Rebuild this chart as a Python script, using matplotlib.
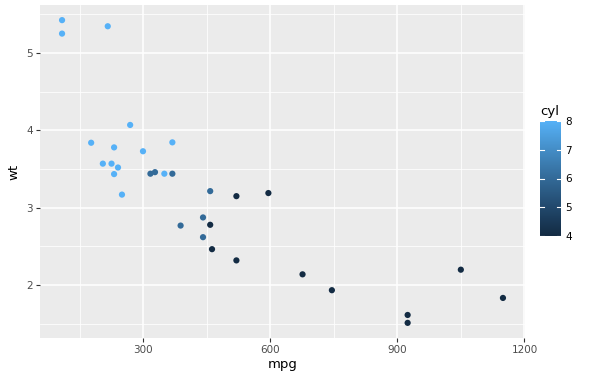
import matplotlib.pyplot as plt
import numpy as np
from matplotlib.colors import LinearSegmentedColormap

# mpg (squared values as plotted), wt, cyl
mpg = [441.0, 441.0, 519.84, 457.96, 349.69, 327.61, 204.49, 595.36,
       519.84, 368.64, 316.84, 268.96, 299.29, 231.04, 108.16, 108.16,
       216.09, 1049.76, 924.16, 1149.21, 462.25, 240.25, 231.04, 176.89,
       368.64, 745.29, 676.0, 924.16, 249.64, 388.09, 225.0, 457.96]
wt = [2.620, 2.875, 2.320, 3.215, 3.440, 3.460, 3.570, 3.190,
      3.150, 3.440, 3.440, 4.070, 3.730, 3.780, 5.250, 5.424,
      5.345, 2.200, 1.615, 1.835, 2.465, 3.520, 3.435, 3.840,
      3.845, 1.935, 2.140, 1.513, 3.170, 2.770, 3.570, 2.780]
cyl = [6, 6, 4, 6, 8, 6, 8, 4, 4, 6, 6, 8, 8, 8, 8, 8,
       8, 4, 4, 4, 4, 8, 8, 8, 8, 4, 4, 4, 8, 6, 8, 4]

x_ticks = [300, 600, 900, 1200]
y_ticks = [2, 3, 4, 5]
cbar_ticks = [4, 5, 6, 7, 8]

cmap = LinearSegmentedColormap.from_list(
    "gg", ["#132B43", "#22496D", "#336A98", "#448DC6", "#56B1F7"])

fig = plt.figure(figsize=(6, 3.75), dpi=100)
W, H = 600, 375
ax = fig.add_axes([40 / W, 1 - 338 / H, (525 - 40) / W, (338 - 5) / H])
ax.set_facecolor("#EBEBEB")

xmin, xmax = min(mpg), max(mpg)
ymin, ymax = min(wt), max(wt)
dx, dy = (xmax - xmin) * 0.05, (ymax - ymin) * 0.05
ax.set_xlim(xmin - dx, xmax + dx)
ax.set_ylim(ymin - dy, ymax + dy)

ax.set_xticks(x_ticks[:-1] + [1200])
ax.set_yticks(y_ticks)
ax.set_xticks([150, 450, 750, 1050], minor=True)
ax.set_yticks([1.5, 2.5, 3.5, 4.5, 5.5], minor=True)
ax.grid(which="major", color="white", lw=1.1)
ax.grid(which="minor", color="white", lw=0.55)
ax.set_axisbelow(True)
for s in ax.spines.values():
    s.set_visible(False)
ax.tick_params(which="major", length=3, width=0.8, color="#333333",
               labelsize=7.5, labelcolor="#4D4D4D", pad=2)
ax.tick_params(which="minor", length=0)

ax.scatter(mpg, wt, c=cyl, cmap=cmap, vmin=4, vmax=8, s=20,
           linewidths=0, zorder=3)
ax.set_xlabel("mpg", fontsize=9.5, labelpad=2)
ax.set_ylabel("wt", fontsize=9.5, labelpad=4)

# colourbar legend
cax = fig.add_axes([540 / W, 1 - 236 / H, 21 / W, (236 - 121) / H])
grad = np.linspace(4, 8, 200).reshape(-1, 1)
cax.imshow(grad, cmap=cmap, vmin=4, vmax=8, origin="lower",
           aspect="auto", extent=[0, 1, 4, 8])
cax.set_xlim(0, 1)
cax.set_ylim(4, 8)
for t in cbar_ticks:
    cax.plot([0, 0.2], [t, t], color="white", lw=0.8)
    cax.plot([0.8, 1], [t, t], color="white", lw=0.8)
cax.set_xticks([])
cax.set_yticks(cbar_ticks)
cax.yaxis.tick_right()
cax.tick_params(length=0, labelsize=7.5, labelcolor="#000000", pad=3)
for s in cax.spines.values():
    s.set_visible(False)
fig.text(540 / W, 1 - 112 / H, "cyl", fontsize=9.5, va="center", ha="left")

fig.savefig("out.png", dpi=100)
